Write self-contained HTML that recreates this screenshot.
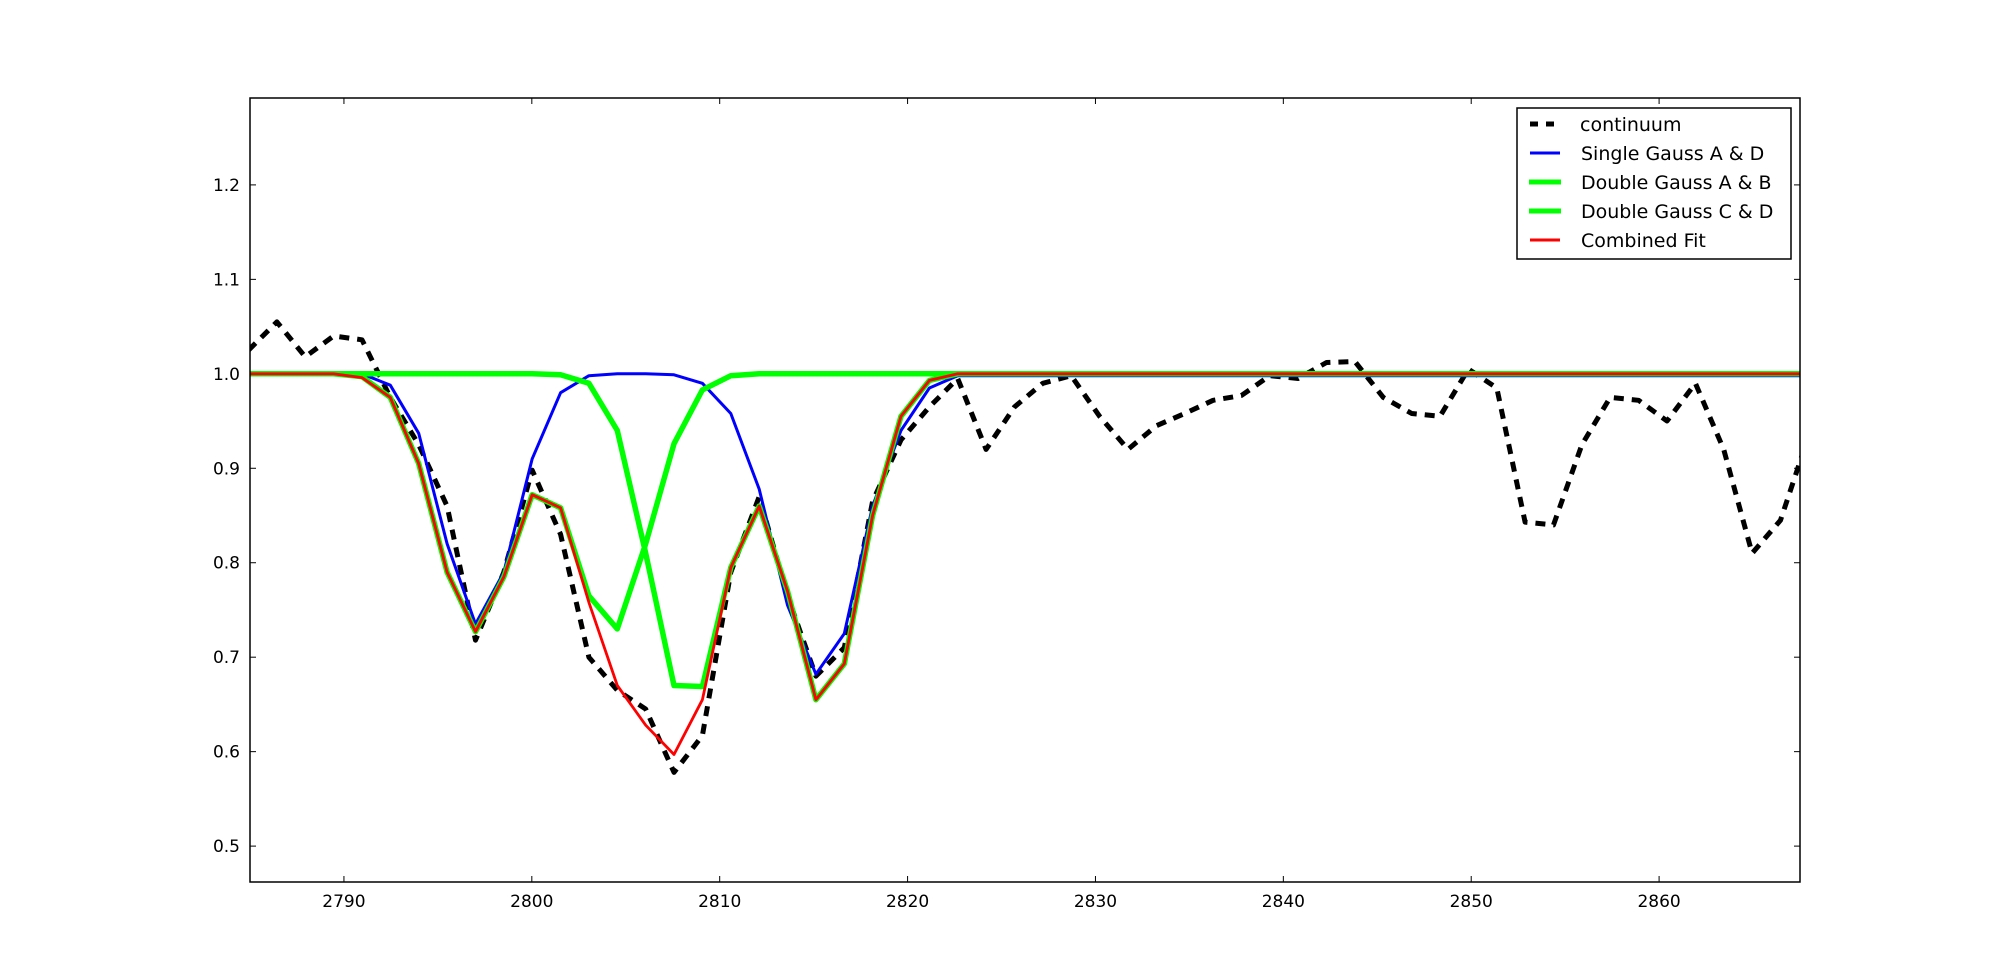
<!DOCTYPE html>
<html><head><meta charset="utf-8"><style>
body{margin:0;background:#fff}
svg{display:block}
text{font-family:"DejaVu Sans","Liberation Sans",sans-serif;}
</style></head><body>
<svg id="chart" width="2000" height="980" xmlns="http://www.w3.org/2000/svg">
<rect x="0" y="0" width="2000" height="980" fill="#fff"/>
<g id="ticks"></g>
<g id="plot"></g>
<rect x="250" y="98" width="1550" height="784" fill="none" stroke="#000" stroke-width="1.5"/>
<g>
<rect x="1517" y="108" width="274" height="151" fill="#fff" stroke="#000" stroke-width="1.5"/>
<line x1="1530" y1="124" x2="1556" y2="124" stroke="#000" stroke-width="5" stroke-dasharray="8,8"/>
<text x="1580" y="131" font-size="19">continuum</text>
<line x1="1530" y1="153" x2="1560" y2="153" stroke="#0000ff" stroke-width="3"/>
<text x="1581" y="160" font-size="19">Single Gauss A &amp; D</text>
<line x1="1529" y1="182" x2="1561" y2="182" stroke="#00ff00" stroke-width="5"/>
<text x="1581" y="189" font-size="19">Double Gauss A &amp; B</text>
<line x1="1529" y1="211" x2="1561" y2="211" stroke="#00ff00" stroke-width="5"/>
<text x="1581" y="218" font-size="19">Double Gauss C &amp; D</text>
<line x1="1530" y1="240" x2="1560" y2="240" stroke="#ff0000" stroke-width="3"/>
<text x="1581" y="247" font-size="19">Combined Fit</text>
</g>
</svg>
<script>
const xStart = 2784.92, xStep = 1.51;
const continuum = [1.025,1.055,1.018,1.040,1.036,0.975,0.925,0.86,0.718,0.79,0.898,0.83,0.70,0.665,0.645,0.578,0.617,0.79,0.87,0.765,0.68,0.71,0.865,0.93,0.965,0.995,0.92,0.965,0.99,0.998,0.955,0.92,0.945,0.958,0.972,0.977,0.998,0.995,1.012,1.013,0.975,0.958,0.955,1.005,0.985,0.843,0.84,0.925,0.975,0.972,0.95,0.99,0.92,0.81,0.845,0.935];
const singleAD = [1,1,1,1,1,0.988,0.937,0.82,0.735,0.79,0.91,0.98,0.998,1.0,1.0,0.999,0.99,0.958,0.878,0.755,0.682,0.725,0.86,0.94,0.985,0.998];
const doubleAB = [1,1,1,1,0.997,0.975,0.905,0.79,0.727,0.785,0.872,0.858,0.765,0.73,0.82,0.926,0.983,0.998,1,1,1,1,1,1,1,1];
const doubleCD = [1,1,1,1,1,1,1,1,1,1,1.0,0.999,0.99,0.94,0.81,0.67,0.669,0.795,0.86,0.77,0.655,0.693,0.85,0.955,0.993,1.0];
const combined = [1,1,1,1,0.996,0.975,0.905,0.79,0.727,0.785,0.872,0.858,0.758,0.67,0.628,0.597,0.655,0.795,0.86,0.77,0.655,0.693,0.85,0.955,0.993,1.0];
const xTicks = [2790,2800,2810,2820,2830,2840,2850,2860];
const yTicks = [0.5,0.6,0.7,0.8,0.9,1.0,1.1,1.2];
const xMin=2785, xMax=2867.5, yMin=0.462, yMax=1.292;
const L=250,R=1800,T=98,B=882;
const sx = v => L + (v - xMin) / (xMax - xMin) * (R - L);
const sy = v => B - (v - yMin) / (yMax - yMin) * (B - T);
const NS = "http://www.w3.org/2000/svg";
const plot = document.getElementById('plot');
const ticks = document.getElementById('ticks');
function pts(arr, extendTo){
  const p = arr.map((v,i)=>[xStart+i*xStep, v]);
  if (extendTo) for (let i=arr.length;i<continuum.length;i++) p.push([xStart+i*xStep, arr[arr.length-1]]);
  return p.map(q=>sx(q[0]).toFixed(1)+','+sy(q[1]).toFixed(1)).join(' ');
}
const clip = document.createElementNS(NS,'clipPath'); clip.setAttribute('id','c');
const cr = document.createElementNS(NS,'rect'); cr.setAttribute('x',L); cr.setAttribute('y',T); cr.setAttribute('width',R-L); cr.setAttribute('height',B-T);
clip.appendChild(cr); document.getElementById('chart').appendChild(clip);
plot.setAttribute('clip-path','url(#c)');
function line(arr, color, w, dash, name){
  const el = document.createElementNS(NS,'polyline');
  el.setAttribute('points', pts(arr, true));
  el.setAttribute('fill','none'); el.setAttribute('stroke',color); el.setAttribute('stroke-width',w);
  el.setAttribute('stroke-linejoin','round');
  if (dash) el.setAttribute('stroke-dasharray',dash);
  
  
  plot.appendChild(el);
}
line(continuum,'#000',5,'10,8','continuum-line');
line(singleAD,'#0000ff',3,null,'single-gauss-ad-line');
line(doubleAB,'#00ff00',5.5,null,'double-gauss-ab-line');
line(doubleCD,'#00ff00',5.5,null,'double-gauss-cd-line');
line(combined,'#ff0000',2.8,null,'combined-fit-line');
xTicks.forEach(v=>{
  const x = sx(v);
  const t1 = document.createElementNS(NS,'line');
  t1.setAttribute('x1',x); t1.setAttribute('x2',x); t1.setAttribute('y1',B); t1.setAttribute('y2',B-6); t1.setAttribute('stroke','#000');
    ticks.appendChild(t1);
  const t2 = document.createElementNS(NS,'line');
  t2.setAttribute('x1',x); t2.setAttribute('x2',x); t2.setAttribute('y1',T); t2.setAttribute('y2',T+6); t2.setAttribute('stroke','#000');
    ticks.appendChild(t2);
  const tx = document.createElementNS(NS,'text');
  tx.setAttribute('x',x); tx.setAttribute('y',B+25); tx.setAttribute('font-size','17'); tx.setAttribute('text-anchor','middle');
  tx.textContent = v;
    ticks.appendChild(tx);
});
yTicks.forEach(v=>{
  const y = sy(v);
  const t1 = document.createElementNS(NS,'line');
  t1.setAttribute('x1',L); t1.setAttribute('x2',L+6); t1.setAttribute('y1',y); t1.setAttribute('y2',y); t1.setAttribute('stroke','#000');
    ticks.appendChild(t1);
  const t2 = document.createElementNS(NS,'line');
  t2.setAttribute('x1',R); t2.setAttribute('x2',R-6); t2.setAttribute('y1',y); t2.setAttribute('y2',y); t2.setAttribute('stroke','#000');
    ticks.appendChild(t2);
  const tx = document.createElementNS(NS,'text');
  tx.setAttribute('x',L-10); tx.setAttribute('y',y+6); tx.setAttribute('font-size','17'); tx.setAttribute('text-anchor','end');
  tx.textContent = v.toFixed(1);
    ticks.appendChild(tx);
});
</script>
</body></html>
